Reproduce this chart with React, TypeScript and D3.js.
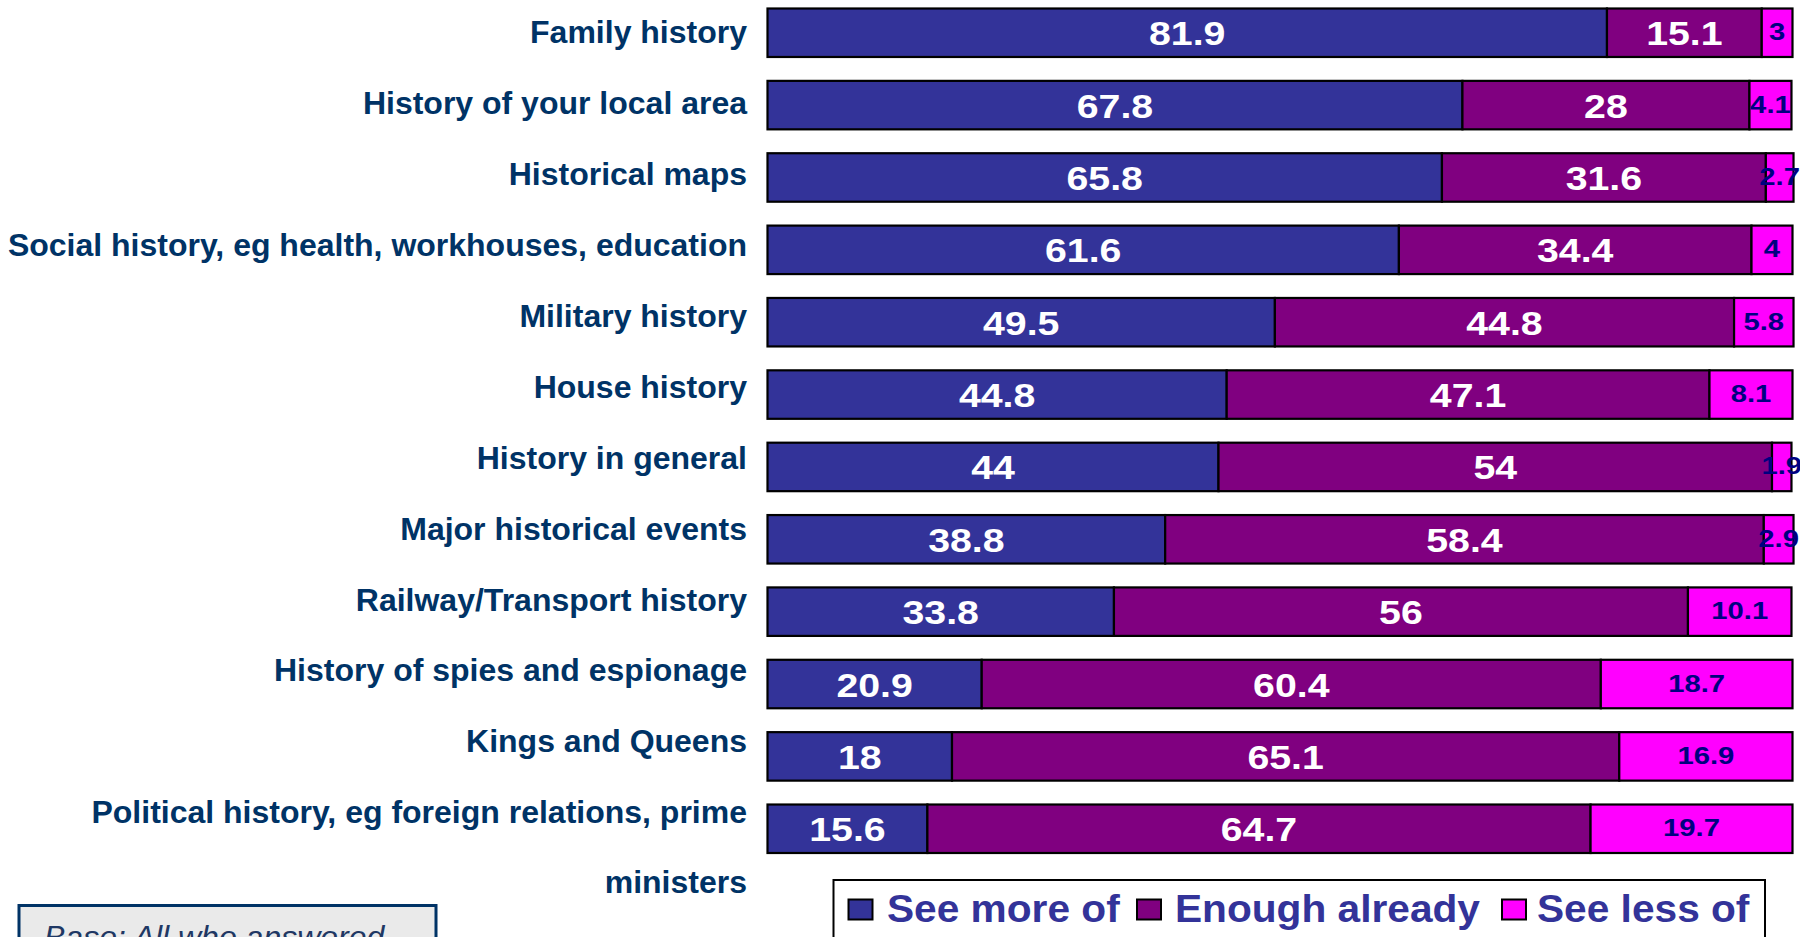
import React from "react";
import * as d3 from "d3";

const categories = [
  "Family history",
  "History of your local area",
  "Historical maps",
  "Social history, eg health, workhouses, education",
  "Military history",
  "House history",
  "History in general",
  "Major historical events",
  "Railway/Transport history",
  "History of spies and espionage",
  "Kings and Queens",
  "Political history, eg foreign relations, prime ministers",
];
const seeMore = [81.9, 67.8, 65.8, 61.6, 49.5, 44.8, 44, 38.8, 33.8, 20.9, 18, 15.6];
const enough = [15.1, 28, 31.6, 34.4, 44.8, 47.1, 54, 58.4, 56, 60.4, 65.1, 64.7];
const seeLess = [3, 4.1, 2.7, 4, 5.8, 8.1, 1.9, 2.9, 10.1, 18.7, 16.9, 19.7];
const seriesNames = ["See more of", "Enough already", "See less of"];
const seriesColors = ["#333399", "#800080", "#FF00FF"];
const labelColors = ["#FFFFFF", "#FFFFFF", "#000080"];
const baseNote = "Base: All who answered";

const W = 1800;
const H = 937;

function wrap(text: string, maxChars: number): string[] {
  const words = text.split(" ");
  const lines: string[] = [];
  let cur = "";
  for (const w of words) {
    const next = cur ? cur + " " + w : w;
    if (next.length > maxChars && cur) {
      lines.push(cur);
      cur = w;
    } else cur = next;
  }
  if (cur) lines.push(cur);
  return lines;
}

export default function App() {
  const x = d3.scaleLinear().domain([0, 100]).range([767.5, 1792.5]);
  const y = d3
    .scaleBand<string>()
    .domain(categories)
    .range([8.5, 853])
    .paddingInner(0.33)
    .paddingOuter(0);
  const yLabel = d3.scalePoint<string>().domain(categories).range([43.3, 823.3]);

  const rows = categories.map((c, i) => ({ c, vals: [seeMore[i], enough[i], seeLess[i]] }));
  const stack = d3.stack<any>().keys(["0", "1", "2"]).value((d, k) => d.vals[+k]);
  const stacked = stack(rows as any);

  const bw = y.bandwidth();
  const font = "'Liberation Sans', Arial, Helvetica, sans-serif";

  const legendItems = [
    { sq: 848.5, tx: 887 },
    { sq: 1137, tx: 1175 },
    { sq: 1502, tx: 1537 },
  ];

  return (
    <svg
      width={W}
      height={H}
      style={{ position: "absolute", left: 0, top: 0, background: "#fff" }}
      fontFamily={font}
    >
      {/* category labels */}
      {categories.map((c) => {
        const lines = wrap(c, 48);
        return (
          <text
            key={c}
            x={747}
            y={yLabel(c)}
            textAnchor="end"
            fontSize={32}
            fontWeight="bold"
            fill="#003366"
          >
            {lines.map((l, j) => (
              <tspan key={j} x={747} dy={j === 0 ? 0 : 70}>
                {l}
              </tspan>
            ))}
          </text>
        );
      })}

      {/* bars */}
      {stacked.map((layer, si) => (
        <g key={si}>
          {layer.map((d: any, i: number) => (
            <rect
              key={i}
              x={x(d[0])}
              y={y(categories[i])}
              width={x(d[1]) - x(d[0])}
              height={bw}
              fill={seriesColors[si]}
              stroke="#000"
              strokeWidth={2.2}
            />
          ))}
        </g>
      ))}

      {/* data labels */}
      {stacked.map((layer, si) => (
        <g key={"l" + si}>
          {layer.map((d: any, i: number) => {
            const cx = (x(d[0]) + x(d[1])) / 2;
            const cy = (y(categories[i]) as number) + bw / 2;
            const small = si === 2;
            const fs = small ? 24 : 33;
            const by = small ? cy + 7.5 : cy + 12.5;
            return (
              <text
                key={i}
                transform={`translate(${cx},${by}) scale(${small ? 1.22 : 1.19},1)`}
                textAnchor="middle"
                fontSize={fs}
                fontWeight="bold"
                fill={labelColors[si]}
              >
                {String(rows[i].vals[si])}
              </text>
            );
          })}
        </g>
      ))}

      {/* legend */}
      <rect x={833.5} y={880} width={931.5} height={58} fill="#fff" stroke="#000" strokeWidth={2} />
      {seriesNames.map((n, i) => (
        <g key={n}>
          <rect
            x={legendItems[i].sq}
            y={899.5}
            width={24}
            height={20}
            fill={seriesColors[i]}
            stroke="#000"
            strokeWidth={2}
          />
          <text
            transform={`translate(${legendItems[i].tx},921.7) scale(1.07,1)`}
            fontSize={38}
            fontWeight="bold"
            fill="#333399"
          >
            {n}
          </text>
        </g>
      ))}

      {/* base note */}
      <rect x={19} y={905.5} width={417} height={60} fill="#EAEAEA" stroke="#003366" strokeWidth={3} />
      <text x={44} y={948} fontSize={32} fontStyle="italic" fill="#1F3864">
        {baseNote}
      </text>
    </svg>
  );
}
